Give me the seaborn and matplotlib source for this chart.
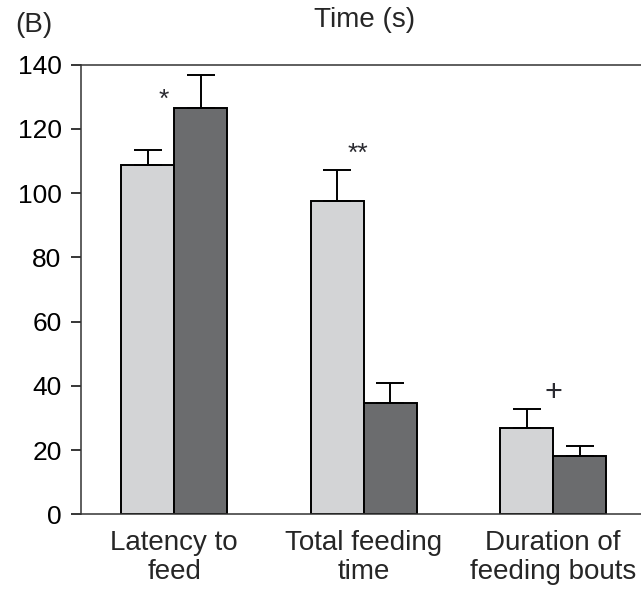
import matplotlib
matplotlib.use("Agg")
import matplotlib.pyplot as plt
import seaborn as sns
import pandas as pd
import numpy as np

# ---- data ----
categories = ["Latency to\nfeed", "Total feeding\ntime", "Duration of\nfeeding bouts"]
groups = ["Control", "Treatment"]
control_vals = [108.8, 97.5, 27.0]
control_err = [4.7, 9.8, 5.8]
treat_vals = [126.4, 34.8, 18.1]
treat_err = [10.5, 6.1, 3.1]
y_ticks = [0, 20, 40, 60, 80, 100, 120, 140]
sig_labels = ["*", "**", "+"]
sig_y = [126.8, 110.2, 35.4]

df = pd.DataFrame({
    "category": categories * 2,
    "group": [groups[0]] * 3 + [groups[1]] * 3,
    "value": control_vals + treat_vals,
})

sns.set_theme(style="white")
plt.rcParams["font.family"] = ["Liberation Sans", "DejaVu Sans"]

fig = plt.figure(figsize=(6.41, 5.94), dpi=100)
ax = fig.add_axes([81 / 641, 79.7 / 594, 567 / 641, 449.6 / 594])

palette = {"Control": "#d3d4d6", "Treatment": "#6b6c6e"}
sns.barplot(data=df, x="category", y="value", hue="group", order=categories,
            hue_order=groups, palette=palette, width=0.56, gap=0,
            edgecolor="black", linewidth=1.4, saturation=1, legend=False,
            errorbar=None, ax=ax)

errs = [control_err, treat_err]
for cont, err in zip(ax.containers, errs):
    xs = [p.get_x() + p.get_width() / 2 for p in cont.patches]
    hs = [p.get_height() for p in cont.patches]
    ax.errorbar(xs, hs, yerr=[np.zeros(len(err)), err], fmt="none",
                ecolor="black", elinewidth=1.4, capsize=10.4, capthick=1.4,
                zorder=1)

# significance marks, placed next to the boundary between the two bars
offsets = [-0.054, -0.032, 0.0]
for i, (lab, yv) in enumerate(zip(sig_labels, sig_y)):
    fs = 22 if lab == "+" else 19
    ax.text(i + offsets[i], yv, lab, ha="center", va="baseline",
            fontsize=fs, color="#2a2a30")

ax.set_xlim(-0.492, 2.5)
ax.set_ylim(0, 140)
ax.set_yticks(y_ticks)
ax.set_xlabel("")
ax.set_ylabel("")
ax.set_title("Time (s)", fontsize=20, pad=27)

for s in ["left", "top", "bottom"]:
    ax.spines[s].set_visible(True)
    ax.spines[s].set_color("#333333")
    ax.spines[s].set_linewidth(1.1)
ax.spines["right"].set_visible(False)

ax.tick_params(axis="y", which="both", left=True, length=7, width=1.1,
               pad=7, labelsize=19, colors="black")
ax.tick_params(axis="x", which="both", bottom=False, length=0, pad=11.5,
               labelsize=20)
for t in ax.get_xticklabels():
    t.set_linespacing(1.16)

fig.text(15 / 641, 1 - 31.5 / 594, "(B)", fontsize=20, ha="left", va="baseline")

fig.savefig("out.png", dpi=100)
